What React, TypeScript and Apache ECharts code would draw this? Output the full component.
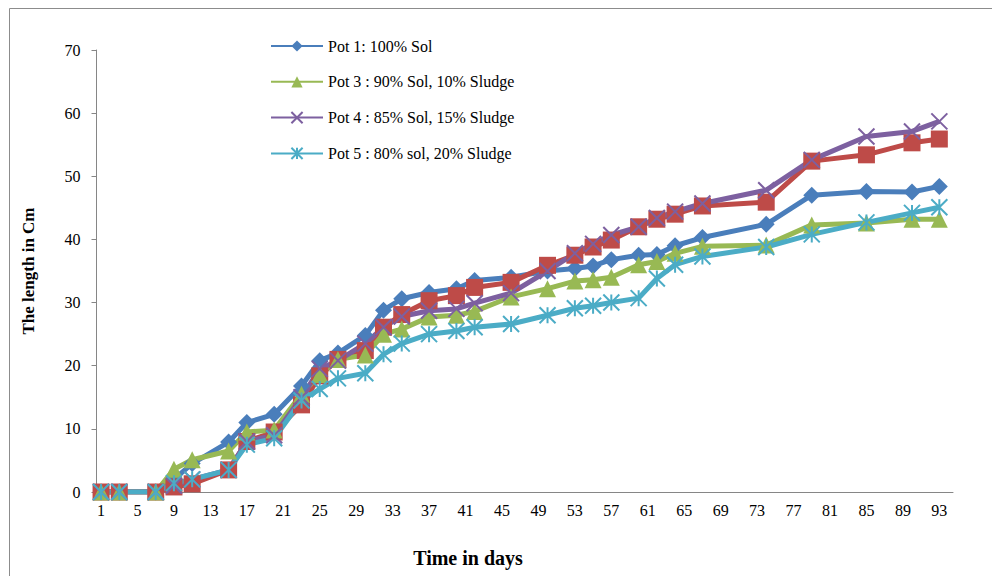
import React, { useEffect, useRef } from "react";
import * as echarts from "echarts";

const categories: string[] = Array.from({ length: 94 }, (_, i) => String(i + 1));
const days = [1, 3, 7, 9, 11, 15, 17, 20, 23, 25, 27, 30, 32, 34, 37, 40, 42, 46, 50, 53, 55, 57, 60, 62, 64, 67, 74, 79, 85, 90, 93];

const pot1 = [0, 0, 0, 2, 4.5, 7.9, 11, 12.3, 16.8, 20.8, 22, 24.8, 28.8, 30.6, 31.6, 32.2, 33.5, 34, 35, 35.4, 35.8, 36.8, 37.5, 37.6, 39, 40.3, 42.4, 47, 47.6, 47.5, 48.4];
const pot2 = [0, 0, 0, 0.8, 1.3, 3.5, 8, 9.5, 13.8, 18.4, 21, 22.4, 26.1, 28.1, 30.3, 31.1, 32.4, 33.2, 35.9, 37.5, 38.8, 39.9, 42, 43.2, 44, 45.3, 45.9, 52.4, 53.4, 55.3, 55.9];
const pot3 = [0, 0, 0, 3.6, 5.1, 6.5, 9.5, 9.8, 15.5, 18.6, 21, 21.7, 25, 25.8, 27.7, 28, 28.6, 30.9, 32.2, 33.4, 33.6, 34, 36, 36.5, 37.8, 38.9, 39.1, 42.3, 42.6, 43.2, 43.2];
const pot4 = [0, 0, 0, 1, 2, 3.5, 8, 9, 15, 19.5, 20.8, 23.5, 26.1, 27.8, 28.7, 29, 29.9, 31.5, 35, 37.8, 39.3, 40.7, 42, 43.4, 44.4, 45.7, 47.8, 52.6, 56.3, 57.1, 58.7];
const pot5 = [0, 0, 0, 1.4, 2, 3.5, 7.5, 8.5, 14.5, 16.3, 18, 18.8, 21.8, 23.5, 25, 25.5, 26.1, 26.6, 28, 29.1, 29.5, 30, 30.7, 33.8, 36, 37.3, 38.8, 40.8, 42.7, 44.2, 45.1];

const names = [
  "Pot 1: 100% Sol",
  "Pot 2",
  "Pot 3 : 90% Sol, 10% Sludge",
  "Pot 4 : 85% Sol, 15% Sludge",
  "Pot 5 : 80% sol, 20% Sludge",
];
const legendNames = [names[0], names[2], names[3], names[4]];

const FONT = "'Liberation Serif', 'DejaVu Serif', serif";

const pairs = (vals: number[]) => days.map((d, i) => [String(d), vals[i]]);

export default function App() {
  const ref = useRef<HTMLDivElement>(null);
  useEffect(() => {
    if (!ref.current) return;
    const chart = echarts.init(ref.current, null, { renderer: "svg" });
    const xSym = "path://M0,0 L10,10 M10,0 L0,10";
    const starSym = "path://M5,0 L5,10 M0,0 L10,10 M10,0 L0,10";
    const mk = (name: string, vals: number[], color: string, symbol: string, size: number, stroke?: boolean) => ({
      name,
      type: "line",
      data: pairs(vals),
      symbol,
      symbolSize: size,
      showSymbol: true,
      showAllSymbol: true,
      lineStyle: { color, width: 5 },
      itemStyle: stroke
        ? { color: "rgba(0,0,0,0)", borderColor: color, borderWidth: 2 }
        : { color, borderColor: color, borderWidth: 0 },
      emphasis: { disabled: true },
    });
    chart.setOption({
      animation: false,
      textStyle: { fontFamily: FONT },
      grid: { left: 96.5, right: 39, top: 50, bottom: 84, containLabel: false },
      legend: {
        data: legendNames,
        orient: "vertical",
        left: 265,
        top: 33,
        itemWidth: 52,
        itemHeight: 14,
        itemGap: 19.8,
        textStyle: { fontFamily: FONT, fontSize: 16, color: "#000" },
      },
      xAxis: {
        type: "category",
        data: categories,
        boundaryGap: true,
        axisLine: { lineStyle: { color: "#868686", width: 1 } },
        axisTick: { show: false },
        axisLabel: { interval: 3, fontFamily: FONT, fontSize: 16, color: "#000", margin: 10 },
        splitLine: { show: false },
      },
      yAxis: {
        type: "value",
        min: 0,
        max: 70,
        interval: 10,
        name: "The length in Cm",
        nameLocation: "middle",
        nameGap: 60,
        nameTextStyle: { fontFamily: FONT, fontSize: 17, fontWeight: "bold", color: "#000" },
        axisLine: { show: true, lineStyle: { color: "#868686", width: 1 } },
        axisTick: { show: true, length: 5, lineStyle: { color: "#868686" } },
        axisLabel: { fontFamily: FONT, fontSize: 16, color: "#000", margin: 16 },
        splitLine: { show: false },
      },
      graphic: [
        {
          type: "rect",
          shape: { x: 9.5, y: 8.5, width: 1000, height: 600 },
          style: { fill: "none", stroke: "#8c8c8c", lineWidth: 1 },
          silent: true,
          z: -10,
        },
        {
          type: "text",
          x: 468,
          y: 558,
          style: {
            text: "Time in days",
            font: "bold 20px " + FONT,
            fill: "#000",
            textAlign: "center",
            textVerticalAlign: "middle",
          },
        },
      ],
      series: [
        mk(names[0], pot1, "#4A7EBB", "diamond", 17),
        mk(names[1], pot2, "#BE4B48", "rect", 17),
        mk(names[2], pot3, "#98B954", "triangle", 17),
        mk(names[3], pot4, "#7D60A0", xSym, 16, true),
        mk(names[4], pot5, "#4BACC6", starSym, 16, true),
      ],
    });
    return () => chart.dispose();
  }, []);
  return <div ref={ref} style={{ width: 992, height: 576, position: "absolute", left: 0, top: 0 }} />;
}
